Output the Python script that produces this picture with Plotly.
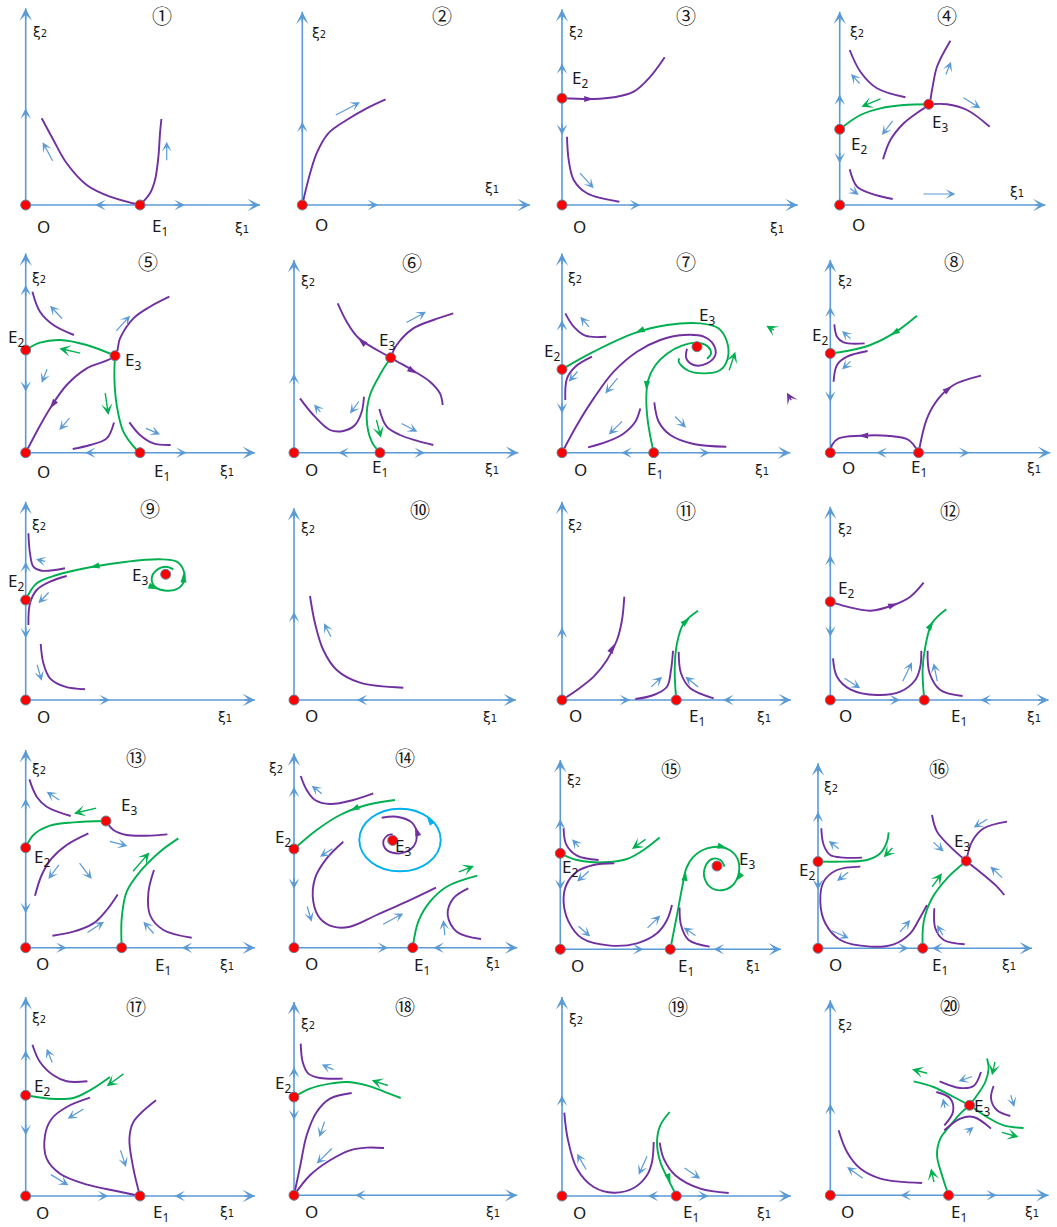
import math
import plotly.graph_objects as go

W, H = 1057, 1227
BLUE, PURPLE, GREEN, CYAN, RED = '#5b9bd5', '#7030a0', '#00b050', '#00b0f0', '#ff0000'
COLORS = {'b': BLUE, 'p': PURPLE, 'g': GREEN, 'c': CYAN}

# ---------------- data (local phase-plane coordinates of each panel) ----------------
# curves: (colour, xi1 values, xi2 values); heads: (colour, x, y, dx, dy) arrowheads on curves
# flow: (colour, x_tail, y_tail, x_head, y_head); yarr/xarr: (position, direction) on the axes

P1_AXES = (234.3, 196.7)
P1_EQ = [(0, 0), (114.3, 0)]
P1_CURVES = [('p', [16, 27.7, 41, 61, 84.3, 114.3], [86.7, 65, 41.7, 20, 8.3, 0]),
             ('p', [114.3, 124.3, 129.3, 132.7, 134.3, 135.7], [0, 11.7, 25, 48.3, 71.7, 86])]
P1_HEADS = []
P1_FLOW = [('b', 27.7, 42.7, 17, 62.7), ('b', 141, 43.3, 141, 63.3)]
P1_YARR = [(96.7, 1)]
P1_XARR = [(69.3, -1), (159.3, 1)]
P1_LABELS = [('O', 17.7, -21.7), ('E1', 134.3, -21.7), ('ξ1', 216, -23.3), ('ξ2', 14.3, 173.3)]
P1_TITLE = ('①', 136.7, 190)

P2_AXES = (227.7, 193.3)
P2_EQ = [(0, 0)]
P2_CURVES = [('p', [0, 6, 14.3, 26, 44.3, 64.3, 83.3], [0, 25, 51.7, 71.7, 85, 96.7, 105.7])]
P2_HEADS = []
P2_FLOW = [('b', 32, 89.3, 57.7, 102.7)]
P2_YARR = [(83.3, 1)]
P2_XARR = [(76, 1)]
P2_LABELS = [('O', 19.3, -19), ('ξ1', 189.3, 16.7), ('ξ2', 16.7, 171.7)]
P2_TITLE = ('②', 140, 190)

P3_AXES = (235.7, 195.7)
P3_EQ = [(0, 0), (0, 106.7)]
P3_CURVES = [('p', [0, 31.7, 51.7, 71.7, 88.3, 102.7], [106.7, 106, 107.7, 113.3, 128.3, 147.7]),
             ('p', [5, 6.7, 11.7, 25, 57.3], [68.3, 45, 25, 11.7, 3.3])]
P3_HEADS = [('p', 31.7, 106, 1, 0)]
P3_FLOW = [('b', 16.7, 33.3, 31.7, 16.7)]
P3_YARR = [(141.7, 1), (70, -1)]
P3_XARR = [(78.3, 1)]
P3_LABELS = [('E2', 18.3, 126.7), ('O', 17.7, -21.7), ('ξ1', 215, -23.3), ('ξ2', 14.3, 173.3)]
P3_TITLE = ('③', 124, 190)

P4_AXES = (205.7, 193.3)
P4_EQ = [(0, 0), (0, 75.7), (89, 100.7)]
P4_CURVES = [('g', [0, 20.7, 40.7, 64, 89], [75.7, 90, 96.7, 100, 100.7]),
             ('p', [43.3, 50.7, 64, 79, 89, 92.3, 97.3, 110.7], [45.7, 65, 81.7, 93.3, 100.7, 115, 138.3, 164.3]),
             ('p', [89, 107.3, 127.3, 150], [100.7, 100.7, 95, 78.3]),
             ('p', [10, 20.7, 37.3, 65.7], [155, 133.3, 116.7, 107.7]),
             ('p', [10, 17.3, 30.7, 53], [35.7, 18.3, 11.7, 6])]
P4_HEADS = []
P4_FLOW = [('g', 42.3, 106.7, 21.7, 98.3), ('b', 21.3, 120, 11.3, 131), ('b', 105.7, 129, 111.3, 143.3),
           ('b', 122.3, 108.3, 140.7, 96.7), ('b', 54, 85.7, 42.3, 70), ('b', 9, 17.7, 19, 10),
           ('b', 82.3, 11, 115.7, 11)]
P4_YARR = [(110.7, 1), (41.7, -1)]
P4_XARR = []
P4_LABELS = [('E3', 100.7, 82.3), ('E2', 19, 61), ('O', 19, -19), ('ξ1', 177.3, 13.3), ('ξ2', 17.3, 173.3)]
P4_TITLE = ('④', 107.3, 190)

P5_AXES = (229.3, 199.3)
P5_EQ = [(0, 0), (0, 102.7), (89.3, 97), (114.3, 0)]
P5_CURVES = [('g', [0, 14.3, 34.3, 61, 89.3], [102.7, 110, 112.7, 107.7, 97]),
             ('g', [89.3, 88.7, 91, 97.7, 111, 114.3], [97, 74.3, 47.7, 21, 2.7, 0]),
             ('p', [0, 11, 24.3, 41, 61, 89.3, 94.3, 107.7, 124.3, 143.7], [0, 21, 44.3, 67.7, 84.3, 97, 114.3, 134.3, 146, 156]),
             ('p', [6.7, 14.3, 27.7, 48.3], [161, 141, 127.7, 117.7]),
             ('p', [47, 64.3, 81, 88.3], [3.7, 7.7, 14.3, 30.3]),
             ('p', [103.7, 114.3, 127.7, 145], [30.3, 17.7, 9.3, 7.7])]
P5_HEADS = [('p', 24.3, 44.3, -16.7, -23.4)]
P5_FLOW = [('g', 56, 99.3, 33.7, 104.3), ('g', 79.3, 61, 82.7, 37.7), ('b', 37.7, 132.7, 24.3, 147),
           ('b', 89.3, 120.3, 104.3, 137), ('b', 22, 85, 16, 70), ('b', 45, 36, 33.7, 22.7),
           ('b', 118.7, 25, 134.3, 18.3)]
P5_YARR = [(167.7, 1), (61, -1)]
P5_XARR = [(59.3, -1), (161, 1)]
P5_LABELS = [('E2', -9.7, 115), ('E3', 107.7, 92.7), ('O', 17.7, -19), ('E1', 136, -19),
             ('ξ1', 201, -18.3), ('ξ2', 13.7, 174.3)]
P5_TITLE = ('⑤', 122.7, 191)

P6_AXES = (224.3, 192.7)
P6_EQ = [(0, 0), (86, 0), (96.7, 95)]
P6_CURVES = [('p', [43.7, 52.7, 64.3, 96.7, 121, 136, 146, 148.7], [149.3, 131, 115, 95, 81, 71, 59.3, 47.7]),
             ('p', [96.7, 102.7, 119.3, 139.3, 159.3], [95, 107.7, 124.3, 132.7, 139.3]),
             ('g', [96.7, 87.7, 76, 72.7, 77.7, 86], [95, 81, 57.7, 34.3, 11, 0]),
             ('p', [6, 19.3, 36, 49.3, 61, 67.7, 70], [54.3, 37.7, 22.7, 21.7, 27.7, 41, 56]),
             ('p', [85.3, 92.7, 106, 122.7, 139.3], [43.7, 26, 17.7, 12, 7.7])]
P6_HEADS = [('p', 64.3, 114.3, -10.7, 9.3), ('p', 122.7, 79.3, 1, -0.6)]
P6_FLOW = [('g', 82, 34.3, 87, 15), ('b', 111, 129.3, 132, 141), ('b', 27.7, 39.3, 20, 48.3),
           ('b', 66, 52.7, 56, 39.3), ('b', 106, 30, 123.3, 21)]
P6_YARR = [(79.3, 1)]
P6_XARR = [(44.3, -1), (131, 1)]
P6_LABELS = [('E3', 92.7, 112.7), ('O', 17.7, -16.3), ('E1', 86, -15), ('ξ1', 197.7, -16.3), ('ξ2', 14.3, 171.7)]
P6_TITLE = ('⑥', 117.7, 190.3)

P7_AXES = (228.3, 199.3)
P7_EQ = [(0, 0), (0, 83.3), (91.7, 0), (135, 106)]
P7_CURVES = [('g', [0, 31.7, 71.7, 105, 138.3, 156.7, 165, 165.7, 158.3, 141.7, 125, 116.7, 117.3],
              [83.3, 101, 119.3, 127.7, 129.3, 124.3, 111, 94.3, 82.7, 79.3, 82.7, 91, 94.3]),
             ('p', [0, 15, 31.7, 51.7, 75, 98.3, 121.7, 141.7, 151.7, 153.3, 145, 131.7, 124.3, 125],
              [0, 27.7, 54.3, 81, 101, 112.7, 117.7, 116, 107.7, 97.7, 89.3, 87.7, 94.3, 104]),
             ('g', [91.7, 86, 84.3, 86, 93, 105, 120, 135, 146, 149, 145],
              [0, 30, 55, 72, 87, 99, 107, 110, 106, 99, 94]),
             ('p', [3.3, 11.7, 23.3, 44.3], [139.3, 126, 117, 116]),
             ('p', [30, 13.3, 5, 3.3], [96, 86, 74.3, 52.7]),
             ('p', [26, 45, 61.7, 73.3, 78.3], [5.3, 11, 19.3, 31, 44.3]),
             ('p', [92.3, 96.7, 108.3, 131.7, 164.3], [50.3, 31, 17.7, 8.7, 6])]
P7_HEADS = [('g', 73.3, 120, -1, -0.4), ('g', 84.5, 62, -0.05, -1)]
P7_FLOW = [('g', 166.7, 81, 173.3, 101), ('g', 213.3, 121.7, 204.3, 127), ('p', 230, 51, 225, 60),
           ('b', 28.3, 124.3, 18.3, 136), ('b', 16.7, 82.7, 6.7, 71), ('b', 56.7, 76, 43.3, 59.3),
           ('b', 61.7, 32.7, 46.7, 18.3), ('b', 111.7, 37.7, 124, 25)]
P7_YARR = [(132.7, 1), (39.3, -1)]
P7_XARR = [(59.3, -1), (147.7, 1)]
P7_LABELS = [('E2', -10, 101.7), ('E3', 145, 137.7), ('O', 18.3, -16.3), ('E1', 93.3, -16.3),
             ('ξ1', 200, -17.3), ('ξ2', 13.3, 174.3)]
P7_TITLE = ('⑦', 124, 191)

P8_AXES = (220, 192.7)
P8_EQ = [(0, 0), (0, 99.3), (88.3, 0)]
P8_CURVES = [('g', [86.7, 63.3, 40, 16.7, 0], [137, 119.3, 107.7, 101.7, 99.3]),
             ('p', [4, 6.7, 13.3, 34.3], [128.3, 116, 110.3, 109.3]),
             ('p', [37.3, 16.7, 6.7, 3.3], [101.7, 96, 87.7, 71]),
             ('p', [88.3, 78.3, 56.7, 30, 8.3, 1.7, 0], [0, 12.7, 17, 17, 14.3, 7.7, 0]),
             ('p', [88.3, 96.7, 108.3, 123.3, 150.7], [0, 34.3, 54.3, 67.7, 77])]
P8_HEADS = [('g', 60, 117.7, -1, -0.55), ('p', 28.3, 17, -1, 0), ('p', 121.7, 66.5, 1, 0.75)]
P8_FLOW = [('b', 21.7, 112.7, 11.7, 121.7), ('b', 21.7, 92.7, 11.7, 83.3)]
P8_YARR = [(146, 1), (51, -1)]
P8_XARR = [(46, -1), (139.3, 1)]
P8_LABELS = [('E2', -10, 117.7), ('O', 18.3, -15), ('E1', 88.3, -15), ('ξ1', 203.3, -15), ('ξ2', 15, 171.7)]
P8_TITLE = ('⑧', 123.3, 191)

P9_AXES = (229.3, 198.3)
P9_EQ = [(0, 0), (0, 100), (140, 125.7)]
P9_CURVES = [('g', [0, 11, 31, 64.3, 101, 134.3, 151, 157.7, 158.7, 152.7, 141, 129.3, 126, 131, 140, 147.7],
              [100, 116.7, 125, 132.7, 138.3, 140.7, 138.3, 130, 120, 111.7, 109.3, 113.3, 121.7, 130, 133.3, 130.7]),
             ('p', [2.7, 4.3, 7.7, 16, 39.3], [166.7, 146.7, 133.3, 129.3, 131.7]),
             ('p', [41, 24.3, 11, 4.3, 2.7], [124, 118.3, 110, 96.7, 75]),
             ('p', [15, 17.7, 24.3, 39.3, 59.3], [56, 36.7, 21.7, 13.3, 10.7])]
P9_HEADS = [('g', 64.3, 132.7, -1, -0.2), ('g', 157.8, 127, 0, 1), ('g', 132, 110.8, 1, -0.4)]
P9_FLOW = [('b', 21, 138.3, 10.3, 140.7), ('b', 24.3, 109, 12.7, 96.7), ('b', 11, 36.7, 16, 19.3)]
P9_YARR = [(138.3, 1), (61.7, -1)]
P9_XARR = [(84.3, 1)]
P9_LABELS = [('E2', -9.7, 118.3), ('E3', 114.3, 125), ('O', 17.7, -16.7), ('ξ1', 199.3, -16.7), ('ξ2', 13.7, 175)]
P9_TITLE = ('⑨', 124.3, 191.7)

P10_AXES = (222, 191.7)
P10_EQ = [(0, 0)]
P10_CURVES = [('p', [16, 21, 29.3, 42.7, 66, 109.3], [104, 76.7, 50, 30, 17.3, 12.3])]
P10_HEADS = []
P10_FLOW = [('b', 37.7, 61.7, 30, 76.7)]
P10_YARR = [(88.3, 1)]
P10_XARR = [(62.7, -1)]
P10_LABELS = [('O', 17.7, -15), ('ξ1', 196, -16.7), ('ξ2', 14.3, 171.7)]
P10_TITLE = ('⑩', 126, 190.7)

P11_AXES = (229, 198.3)
P11_EQ = [(0, 0), (114.3, 0)]
P11_CURVES = [('p', [0, 15, 31.7, 45, 55, 60, 62.3], [0, 10, 23.3, 40, 60, 80, 103.3]),
              ('g', [114.3, 112.7, 115, 121.7, 136], [0, 30, 56.7, 76.7, 89.3]),
              ('p', [73.3, 91.7, 105, 109, 111], [1, 5, 13.3, 30, 49.3]),
              ('p', [116.7, 119, 128.3, 151.7], [48.3, 26.7, 11.7, 1.7])]
P11_HEADS = [('p', 52.3, 56, 0.5, 1), ('g', 127.7, 82, 0.9, 0.8)]
P11_FLOW = [('b', 87.7, 11.7, 100, 23.3), ('b', 137.7, 11.7, 123.3, 23.3)]
P11_YARR = [(72.7, 1)]
P11_XARR = [(68.3, 1), (161, -1)]
P11_LABELS = [('O', 13.3, -15), ('E1', 135, -16.7), ('ξ1', 201.7, -17.3), ('ξ2', 13.3, 175)]
P11_TITLE = ('⑪', 124.3, 189.3)

P12_AXES = (218.3, 193.3)
P12_EQ = [(0, 0), (0, 98.3), (94, 0)]
P12_CURVES = [('p', [0, 16.7, 40, 63.3, 80, 93.3], [98.3, 93.3, 89.3, 95, 103.3, 117.3]),
              ('g', [94, 92.3, 95, 101.7, 116], [0, 30, 53.3, 76.7, 90.7]),
              ('p', [2.7, 6.7, 20, 46.7, 70, 85, 90, 91], [41.7, 23.3, 10.7, 5, 8.3, 20, 33.3, 49.3]),
              ('p', [97.3, 99.3, 110, 132.3], [49.3, 26.7, 10, 4])]
P12_HEADS = [('p', 67.3, 96.5, 1, 0.35), ('g', 103, 79, 0.6, 1)]
P12_FLOW = [('b', 12.7, 22.7, 30, 11.7), ('b', 71.7, 17.3, 81.7, 37.7), ('b', 107.3, 17.3, 103.3, 36.7)]
P12_YARR = [(145, 1), (63.3, -1)]
P12_XARR = [(70, 1), (150, -1)]
P12_LABELS = [('E2', 16, 111.7), ('O', 15, -15), ('E1', 128.3, -16.7), ('ξ1', 203.3, -16.7), ('ξ2', 15, 170.7)]
P12_TITLE = ('⑫', 120, 189.3)

P13_AXES = (229.3, 197.7)
P13_EQ = [(0, 0), (0, 100), (80.3, 126.7), (96, 0)]
P13_CURVES = [('g', [0, 7.7, 24.3, 47.7, 80.3], [100, 112.7, 122, 125.3, 126.7]),
              ('p', [80.3, 87.7, 101, 121, 141.7], [126.7, 117.7, 112.7, 112, 113.3]),
              ('g', [96, 96, 101, 114.3, 134.3, 152.7], [0, 29.3, 56, 76, 96, 109.3]),
              ('p', [3.7, 11, 21, 45], [168.3, 151, 141, 131.7]),
              ('p', [62.7, 41, 26, 16, 9.3], [114.3, 102.7, 89.3, 72.7, 52]),
              ('p', [26.7, 47.7, 67.7, 81, 92], [12, 16, 24.3, 37.7, 53.3]),
              ('p', [128.3, 122.7, 124.3, 137.7, 166], [77.7, 55.3, 32.7, 17.7, 10])]
P13_HEADS = []
P13_FLOW = [('g', 72, 140, 48.3, 134.3), ('g', 106, 75, 123.7, 95.3), ('b', 35, 146.7, 21, 156),
            ('b', 82.7, 106.7, 101.7, 101.7), ('b', 34.3, 84.3, 22.7, 68.7), ('b', 52.7, 86, 66, 68.7),
            ('b', 60.3, 14.3, 78.3, 26), ('b', 129.3, 12.7, 117.7, 26)]
P13_YARR = [(149.3, 1), (34.3, -1)]
P13_XARR = [(41, 1), (156, -1)]
P13_LABELS = [('E3', 103.7, 142), ('E2', 16, 90), ('O', 17, -15.7), ('E1', 137, -17.3),
              ('ξ1', 201, -17.3), ('ξ2', 13.7, 178.3)]
P13_TITLE = ('⑬', 110.3, 190)

P14_AXES = (223.3, 194.3)
P14_EQ = [(0, 0), (0, 98.7), (118.7, 0), (98.7, 107.3)]
P14_CURVES = [('g', [0, 22.7, 46, 72.7, 101], [98.7, 117.7, 132.7, 142.7, 147.7]),
              ('p', [87.7, 102.7, 117.7, 122.7, 119.3, 106, 92.7, 89.3, 94.3, 98.7],
               [130, 131, 125.3, 114.3, 101, 94.3, 97.7, 106, 112.7, 113.3]),
              ('p', [49.3, 32.7, 21, 19.3, 26, 39.3, 56, 82.7, 112.7, 142],
               [106, 89.3, 69.3, 46, 29.3, 21, 21, 32.7, 46, 60]),
              ('p', [6.7, 12.7, 21, 36, 59.3, 79.3], [171.7, 157.7, 147.7, 143.7, 147.7, 154.3]),
              ('g', [118.7, 124.3, 136, 152.7, 183.3], [0, 26, 46, 61, 72]),
              ('p', [174.3, 159.3, 153.7, 162.7, 187], [59.3, 49.3, 32.7, 16, 8.7])]
P14_CYCLE = (106, 107.7, 40.7, 31.3)  # centre x, centre y, half-width, half-height
P14_HEADS = [('g', 56, 137, -1, -0.45), ('p', 121.5, 121, -0.3, 1), ('c', 132.7, 131.3, -0.6, 0.8)]
P14_FLOW = [('g', 163.3, 75.3, 180, 81.7), ('b', 29.3, 152.7, 17.7, 162), ('b', 40, 100, 26, 91),
            ('b', 12.7, 42.7, 17.7, 26), ('b', 87.7, 22.7, 109.3, 34.3), ('b', 151, 11, 149.3, 27.7)]
P14_YARR = [(161, 1), (58.7, -1)]
P14_XARR = [(94.3, 1), (139.3, -1)]
P14_LABELS = [('E2', -10.7, 110), ('E3', 108.5, 101.7), ('O', 17.7, -15.7), ('E1', 127.7, -17.3),
              ('ξ1', 198.7, -15.7), ('ξ2', -18, 179.3)]
P14_TITLE = ('⑭', 111, 190)

P15_AXES = (220.7, 189.3)
P15_EQ = [(0, 0), (0, 96), (110, 0), (156.7, 83.3)]
P15_CURVES = [('g', [0, 16.7, 43.3, 66.7, 83.3, 99.3], [96, 89.3, 87, 90.3, 99.3, 111.7]),
              ('g', [110, 116.7, 121.7, 126, 133.3, 146.7, 163.3, 175, 179, 174, 163.3, 151.7, 144.3, 145, 151.7, 160, 164.3],
               [0, 34.3, 61, 81, 92.7, 101, 101.7, 94.3, 81, 66, 59.3, 61, 71, 82.7, 90.3, 89.3, 82.7]),
              ('p', [3.3, 6, 16.7, 38.3], [121, 104.7, 93.7, 89.3]),
              ('p', [54, 33.3, 16.7, 6, 3.3, 8.3, 21.7, 50, 76.7, 96.7, 106.7, 111.7],
               [86, 84.3, 77.7, 64.3, 47.7, 27.7, 11, 3.7, 6, 16, 29.3, 44.3]),
              ('p', [119.3, 120.7, 128.3, 149.3], [41.7, 24.3, 9.3, 2.7])]
P15_HEADS = [('g', 125.5, 78, 0.15, 1), ('g', 166.7, 101.2, 1, -0.25), ('g', 175.5, 68, -0.6, -0.8)]
P15_FLOW = [('g', 86.7, 111, 71.7, 100.3), ('b', 20, 101, 11.7, 110), ('b', 30, 79.3, 16.7, 67.7),
            ('b', 16.7, 24.3, 30, 12.7), ('b', 85.7, 20, 100, 33.7), ('b', 136.7, 12.7, 123.3, 21.7)]
P15_YARR = [(130.3, 1), (59.3, -1)]
P15_XARR = [(83.3, 1), (153.3, -1)]
P15_LABELS = [('E2', 9.3, 81.7), ('E3', 186.7, 90.3), ('O', 17.3, -15.7), ('E1', 126, -17.3),
              ('ξ1', 192.7, -16.3), ('ξ2', 14, 169.3)]
P15_TITLE = ('⑮', 111, 181)

P16_AXES = (214, 185)
P16_EQ = [(0, 0), (0, 86.7), (104.7, 0), (148.3, 87.3)]
P16_CURVES = [('g', [0, 25.7, 49, 62.3, 69, 70.7], [86.7, 86.7, 88.3, 95, 106.7, 116]),
              ('g', [104.7, 105.7, 114, 129, 148.3], [0, 26.7, 50, 70, 87.3]),
              ('p', [114, 119, 134, 148.3, 165.7, 179, 186.3], [133.3, 116.7, 100, 87.3, 73.3, 61.7, 53.3]),
              ('p', [148.3, 154, 165.7, 189], [87.3, 106.7, 120, 126.7]),
              ('p', [3.3, 5.7, 12.3, 25.7, 44], [120, 103.3, 93.3, 90.7, 90.7]),
              ('p', [42.3, 19, 5.7, 2.3, 7.3, 22.3, 52.3, 75.7, 92.3, 100.7, 109],
               [81.7, 78.3, 66.7, 46.7, 25, 8.3, 1.7, 4, 15, 28.3, 43.3]),
              ('p', [116.3, 117.3, 125.7, 146.7], [40, 20, 8.3, 4])]
P16_HEADS = []
P16_FLOW = [('g', 75.7, 101.7, 65.7, 91), ('g', 113, 60, 124, 75), ('b', 22.3, 98.3, 10.7, 107.3),
            ('b', 31.7, 77.3, 19, 67.3), ('b', 12.3, 18.3, 30.7, 10), ('b', 80.7, 15, 92.3, 28.3),
            ('b', 125.7, 11.7, 119, 23.3), ('b', 170.7, 130, 155.7, 120.7), ('b', 114, 107.3, 125.7, 96.7),
            ('b', 185.7, 69.3, 172.3, 81.7)]
P16_YARR = [(136.7, 1), (58.3, -1)]
P16_XARR = [(90.7, 1), (114, -1)]
P16_LABELS = [('E2', -11, 78.3), ('E3', 144, 106.7), ('O', 17.3, -16), ('E1', 122.3, -17.3),
              ('ξ1', 190.7, -16.7), ('ξ2', 13, 161.7)]
P16_TITLE = ('⑯', 120.7, 180)

P17_AXES = (229.3, 199)
P17_EQ = [(0, 0), (0, 100.7), (114.3, 0)]
P17_CURVES = [('g', [0, 24.3, 47.7, 64.3, 84.3], [100.7, 97.3, 98, 105.7, 119]),
              ('p', [6.7, 14.3, 27.7, 41, 61.7], [151.3, 134, 120.7, 114.7, 114.7]),
              ('p', [64.3, 41, 26, 19.3, 21, 34.3, 61.7, 91.7, 114.3], [98.3, 89, 77.3, 60.7, 37.3, 22.3, 11.3, 4.7, 0]),
              ('p', [114.3, 107.7, 103.7, 107.7, 130.3], [0, 27.3, 57.3, 74, 95.7])]
P17_HEADS = []
P17_FLOW = [('g', 99.3, 123.3, 81, 109.7), ('b', 27, 132.3, 21, 147.3), ('b', 59.3, 88, 42, 77.3),
            ('b', 23.7, 22.3, 42.7, 10.7), ('b', 94.3, 47.3, 100.3, 29)]
P17_YARR = [(145.7, 1), (60.7, -1)]
P17_XARR = [(82.7, 1), (148.7, -1)]
P17_LABELS = [('E2', 16, 110), ('O', 17, -16), ('E1', 135.3, -16), ('ξ1', 201, -16), ('ξ2', 13.7, 178)]
P17_TITLE = ('⑰', 110.3, 190)

P18_AXES = (223.3, 193.3)
P18_EQ = [(0, 0), (0, 98.3)]
P18_CURVES = [('g', [0, 16, 36, 52.7, 72.7, 89.3, 106.7], [98.3, 106.7, 111.7, 113.3, 110, 104, 97.3]),
              ('p', [6.7, 8.7, 14.3, 26, 48.7], [151.7, 133.3, 121.7, 117.3, 116.7]),
              ('p', [0, 6, 12.7, 22.7, 36, 57.7], [0, 28.3, 60, 83.3, 96.7, 102.3]),
              ('p', [0, 16, 36, 56, 72.7, 90], [0, 20, 35, 45, 47.7, 47.3])]
P18_HEADS = []
P18_FLOW = [('g', 95.3, 109.3, 77.7, 115), ('b', 41, 125, 27.7, 130.7), ('b', 31, 75, 25.3, 58.3),
            ('b', 39.3, 48.3, 22.7, 31.7)]
P18_YARR = [(128.3, 1), (75, -1)]
P18_XARR = [(61, -1)]
P18_LABELS = [('E2', -10.7, 111.7), ('O', 17.7, -16), ('ξ1', 198.7, -16.7), ('ξ2', 14.3, 171.7)]
P18_TITLE = ('⑱', 111, 189.3)

P19_AXES = (229, 199)
P19_EQ = [(0, 0), (114.3, 0)]
P19_CURVES = [('p', [2.3, 5.7, 15, 31.7, 51.7, 71.7, 85, 90, 91.7], [83.3, 57.3, 27.3, 9, 3.3, 8, 20.7, 34, 54]),
              ('g', [107.7, 98.3, 95, 98.3, 106.7, 113.3, 114.3], [84, 70.7, 54, 34, 15.7, 2.3, 0]),
              ('p', [97.7, 101.7, 113.3, 138.3, 166.7], [53.3, 37.3, 20.7, 7.3, 3])]
P19_HEADS = [('g', 108.5, 13, 0.35, -1)]
P19_FLOW = [('b', 25, 25, 15, 42.3), ('b', 85.7, 41.3, 76.7, 21.3), ('b', 121, 29, 138.3, 17.3)]
P19_YARR = [(100.7, 1)]
P19_XARR = [(85.7, -1), (146.7, 1)]
P19_LABELS = [('O', 17.7, -16), ('E1', 129, -16), ('ξ1', 201.7, -16.7), ('ξ2', 14.3, 176.7)]
P19_TITLE = ('⑲', 115.7, 190)

P20_AXES = (218.3, 195)
P20_EQ = [(0, 0), (118.3, 0), (139.3, 90)]
P20_CURVES = [('g', [118.3, 111.7, 106.7, 110, 120, 130, 139.3], [0, 20, 40, 56.7, 70, 81.7, 90]),
              ('g', [139.3, 146.7, 155, 158.3, 156.7], [90, 100, 113.3, 126.7, 136.7]),
              ('g', [139.3, 123.3, 103.3, 83.3], [90, 98.3, 108.3, 114]),
              ('g', [139.3, 156.7, 173.3, 193.3], [90, 78.3, 70, 67.3]),
              ('p', [109.3, 130, 143.3, 150.7], [114, 107.3, 109.3, 123.3]),
              ('p', [163.3, 160.7, 166.7, 180], [109.3, 96.7, 85, 79.3]),
              ('p', [114, 130, 143.3, 160.7], [65, 76.7, 78.3, 66.7]),
              ('p', [106, 120, 122.7, 114], [103.3, 96.7, 83.3, 70]),
              ('p', [8.3, 16.7, 30, 50, 91.7], [65, 43.3, 26.7, 16.7, 12.3])]
P20_HEADS = []
P20_FLOW = [('g', 104, 11.7, 100.7, 26.7), ('g', 165, 135, 161.7, 120), ('g', 98.3, 121.7, 81.7, 126),
            ('g', 170, 63.3, 188.3, 58.3), ('b', 34, 16, 16.7, 28.3), ('b', 143.3, 119.3, 128.3, 114),
            ('b', 115, 86, 112.7, 96.7), ('b', 180, 101.7, 184, 88.3), ('b', 135, 61.7, 143.3, 68.3)]
P20_YARR = [(91.7, 1)]
P20_XARR = [(70, -1), (166.7, 1)]
P20_LABELS = [('E3', 151.7, 89.3), ('O', 17.3, -16), ('E1', 128.3, -16.7), ('ξ1', 201.7, -16.7), ('ξ2', 15, 170)]
P20_TITLE = ('⑳', 119.3, 190)

# ---------------- layout: pixel position of each panel's origin ----------------
PANEL_ORIGINS = [(25.7, 205), (302.3, 205), (562, 205), (839.7, 205),
                 (25.7, 452.7), (294, 452.7), (562, 452.7), (830.3, 452.7),
                 (25.7, 700), (294, 700), (562, 700), (830.3, 700),
                 (25.7, 947.7), (294, 947.7), (560.3, 949.3), (818, 948.3),
                 (25.7, 1196), (294, 1195.3), (562, 1196), (830.3, 1195.3)]

g = globals()
PANELS = []
for k in range(1, 21):
    PANELS.append(dict(axes=g[f'P{k}_AXES'], eq=g[f'P{k}_EQ'], curves=g[f'P{k}_CURVES'],
                       heads=g[f'P{k}_HEADS'], flow=g[f'P{k}_FLOW'], yarr=g[f'P{k}_YARR'],
                       xarr=g[f'P{k}_XARR'], labels=g[f'P{k}_LABELS'], title=g[f'P{k}_TITLE']))

fig = go.Figure()
annotations = []
shapes = []
layout_axes = {}

LABEL_FONT = dict(family='Noto Sans, Open Sans, sans-serif', size=17, color='#1a1a1a')
XI_FONT = dict(family='DejaVu Sans, sans-serif', size=14, color='#1a1a1a')


def fmt_label(t):
    if t.startswith('ξ'):
        return "ξ<span style='font-size:10px'>" + t[1:] + "</span>"
    if t.startswith('E') and len(t) > 1:
        return 'E<sub>' + t[1:] + '</sub>'
    return t


def arrow(s, x0, y0, x1, y1, color, width, size, head=3):
    return dict(x=x1, y=y1, ax=x0, ay=y0, xref='x' + s, yref='y' + s, axref='x' + s, ayref='y' + s,
                showarrow=True, arrowhead=head, arrowsize=size, arrowwidth=width, arrowcolor=color,
                text='', standoff=0, startstandoff=0)


def head_only(s, x, y, dx, dy, color, width, size):
    # arrow drawn along the axis itself, so only its head shows
    n = math.hypot(dx, dy)
    return arrow(s, x - 12 * dx / n, y - 12 * dy / n, x, y, color, width, size)


for i, (p, (ox, oy)) in enumerate(zip(PANELS, PANEL_ORIGINS), start=1):
    s = '' if i == 1 else str(i)
    col = (i - 1) % 4
    next_ox = PANEL_ORIGINS[i][0] if col < 3 else W + 26
    xmin, xmax = -25, min(245, W - ox - 0.5, next_ox - ox - 26)
    ymin, ymax = -30, min(oy, 210)
    layout_axes['xaxis' + s] = dict(domain=[(ox + xmin) / W, (ox + xmax) / W], range=[xmin, xmax],
                                    visible=False, anchor='y' + s, fixedrange=True)
    layout_axes['yaxis' + s] = dict(domain=[(H - oy + ymin) / H, (H - oy + ymax) / H], range=[ymin, ymax],
                                    visible=False, anchor='x' + s, fixedrange=True)
    xl, yl = p['axes']
    # coordinate axes
    fig.add_trace(go.Scatter(x=[0, 0, None, 0, xl], y=[yl, 0, None, 0, 0], mode='lines',
                             line=dict(color=BLUE, width=1.6), xaxis='x' + s, yaxis='y' + s,
                             hoverinfo='skip'))
    annotations.append(head_only(s, 0, yl, 0, 1, BLUE, 1.6, 1.3))
    annotations.append(head_only(s, xl, 0, 1, 0, BLUE, 1.6, 1.3))
    for (yy, d) in p['yarr']:
        annotations.append(head_only(s, 0, yy, 0, d, BLUE, 1.6, 1.1))
    for (xx, d) in p['xarr']:
        annotations.append(head_only(s, xx, 0, d, 0, BLUE, 1.6, 1.1))
    # trajectories
    for (c, xs, ys) in p['curves']:
        fig.add_trace(go.Scatter(x=xs, y=ys, mode='lines', line=dict(color=COLORS[c], width=1.9, shape='spline'),
                                 xaxis='x' + s, yaxis='y' + s, hoverinfo='skip'))
    if i == 14:
        cx, cy, rx, ry = P14_CYCLE
        shapes.append(dict(type='circle', xref='x' + s, yref='y' + s, x0=cx - rx, x1=cx + rx,
                           y0=cy - ry, y1=cy + ry, line=dict(color=CYAN, width=1.9), layer='above'))
    # arrowheads on the trajectories
    if p['heads']:
        fig.add_trace(go.Scatter(
            x=[h[1] for h in p['heads']], y=[h[2] for h in p['heads']], mode='markers',
            marker=dict(symbol='arrow', size=10, color=[COLORS[h[0]] for h in p['heads']],
                        angle=[math.degrees(math.atan2(h[3], h[4])) for h in p['heads']],
                        line=dict(width=0)),
            xaxis='x' + s, yaxis='y' + s, hoverinfo='skip', cliponaxis=False))
    # equilibria
    fig.add_trace(go.Scatter(x=[e[0] for e in p['eq']], y=[e[1] for e in p['eq']], mode='markers',
                             marker=dict(size=10, color=RED, line=dict(color='#6d7f99', width=1)),
                             xaxis='x' + s, yaxis='y' + s, hoverinfo='skip', cliponaxis=False))
    for (c, x0, y0, x1, y1) in p['flow']:
        w = 1.2 if c == 'b' else 1.4
        annotations.append(arrow(s, x0, y0, x1, y1, COLORS[c], w, 1.35))
    for (t, x, y) in p['labels']:
        font = XI_FONT if t.startswith('ξ') else LABEL_FONT
        annotations.append(dict(x=x, y=y, xref='x' + s, yref='y' + s, text=fmt_label(t), showarrow=False,
                                font=font))
    t, x, y = p['title']
    annotations.append(dict(x=x, y=y, xref='x' + s, yref='y' + s, text=t, showarrow=False,
                            font=dict(family='Noto Sans CJK SC, DejaVu Sans, sans-serif', size=20, color='#1a1a1a')))

fig.update_layout(width=W, height=H, autosize=False, margin=dict(l=0, r=0, t=0, b=0),
                  paper_bgcolor='white', plot_bgcolor='white', showlegend=False, hovermode=False,
                  annotations=annotations, shapes=shapes, **layout_axes)

fig.write_html('out.html', config={'displayModeBar': False, 'staticPlot': True},
               post_script="document.body.style.margin='0';document.body.style.overflow='hidden';")
